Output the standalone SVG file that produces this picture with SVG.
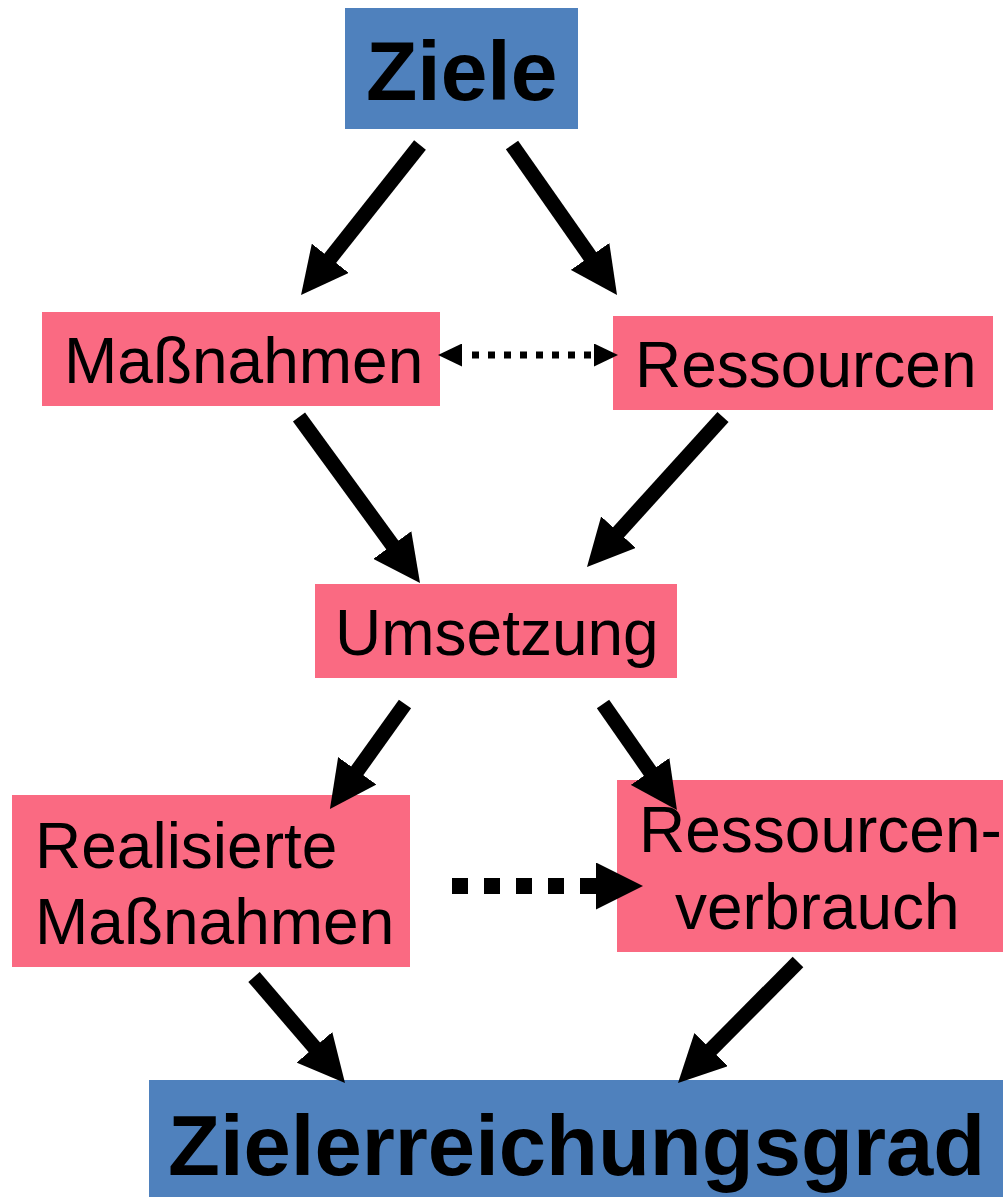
<svg xmlns="http://www.w3.org/2000/svg" width="1003" height="1197" viewBox="0 0 1003 1197">
<style>
.blue{fill:#4F81BD}
.pink{fill:#FA6A82}
.t{font-family:"Liberation Sans",Arial,sans-serif;fill:#000}
.r{font-size:64px}
.b{font-size:84px;font-weight:bold}
.arr{stroke:#000;stroke-width:15;fill:none;marker-end:url(#big)}
</style>
<defs>
<marker id="big" markerUnits="userSpaceOnUse" markerWidth="47" markerHeight="47" viewBox="0 0 47 47" refX="2" refY="23.5" orient="auto">
<path d="M0,0 L47,23.5 L0,47 z" fill="#000"/>
</marker>
<marker id="small" markerUnits="userSpaceOnUse" markerWidth="24" markerHeight="23" viewBox="0 0 24 23" refX="-1" refY="11.5" orient="auto-start-reverse">
<path d="M0,0 L24,11.5 L0,23 z" fill="#000"/>
</marker>
</defs>
<g id="node-ziele">
<rect class="blue" x="345" y="8" width="233" height="121"/>
<text class="t b" x="366" y="100">Ziele</text>
</g>
<g id="node-massnahmen">
<rect class="pink" x="42" y="312" width="398" height="94"/>
<text class="t r" x="64" y="383">Maßnahmen</text>
</g>
<g id="node-ressourcen">
<rect class="pink" x="613" y="316" width="380" height="94"/>
<text class="t r" x="635" y="387">Ressourcen</text>
</g>
<g id="node-umsetzung">
<rect class="pink" x="315" y="584" width="362" height="94"/>
<text class="t r" x="335" y="655">Umsetzung</text>
</g>
<g id="node-realisiert">
<rect class="pink" x="12" y="795" width="398" height="172"/>
<text class="t r" x="35" y="868">Realisierte</text>
<text class="t r" x="35" y="944">Maßnahmen</text>
</g>
<g id="node-verbrauch">
<rect class="pink" x="617" y="780" width="386" height="172"/>
<text class="t r" x="639" y="852">Ressourcen-</text>
<text class="t r" x="675" y="929">verbrauch</text>
</g>
<g id="node-zielerreichungsgrad">
<rect class="blue" x="149" y="1080" width="854" height="117"/>
<text class="t b" x="168" y="1175" style="font-size:85px">Zielerreichungsgrad</text>
</g>
<g id="connectors">
<line class="arr" x1="420" y1="145" x2="329" y2="259.8"/>
<line class="arr" x1="512" y1="145" x2="591.2" y2="258.1"/>
<line class="arr" x1="299" y1="417" x2="393.5" y2="546.6"/>
<line class="arr" x1="723" y1="417" x2="617.2" y2="533.7"/>
<line class="arr" x1="405" y1="704" x2="356.1" y2="772.4"/>
<line class="arr" x1="603" y1="704" x2="651.2" y2="773.1"/>
<line class="arr" x1="254" y1="977" x2="315.7" y2="1048.9"/>
<line class="arr" x1="798" y1="962" x2="709.7" y2="1051"/>
<line x1="463" y1="355" x2="593" y2="355" stroke="#000" stroke-width="7" stroke-dasharray="7 9" stroke-dashoffset="7" marker-start="url(#small)" marker-end="url(#small)"/>
<line x1="452" y1="886" x2="598" y2="886" stroke="#000" stroke-width="16" stroke-dasharray="16 16" marker-end="url(#big)"/>
</g>
</svg>
